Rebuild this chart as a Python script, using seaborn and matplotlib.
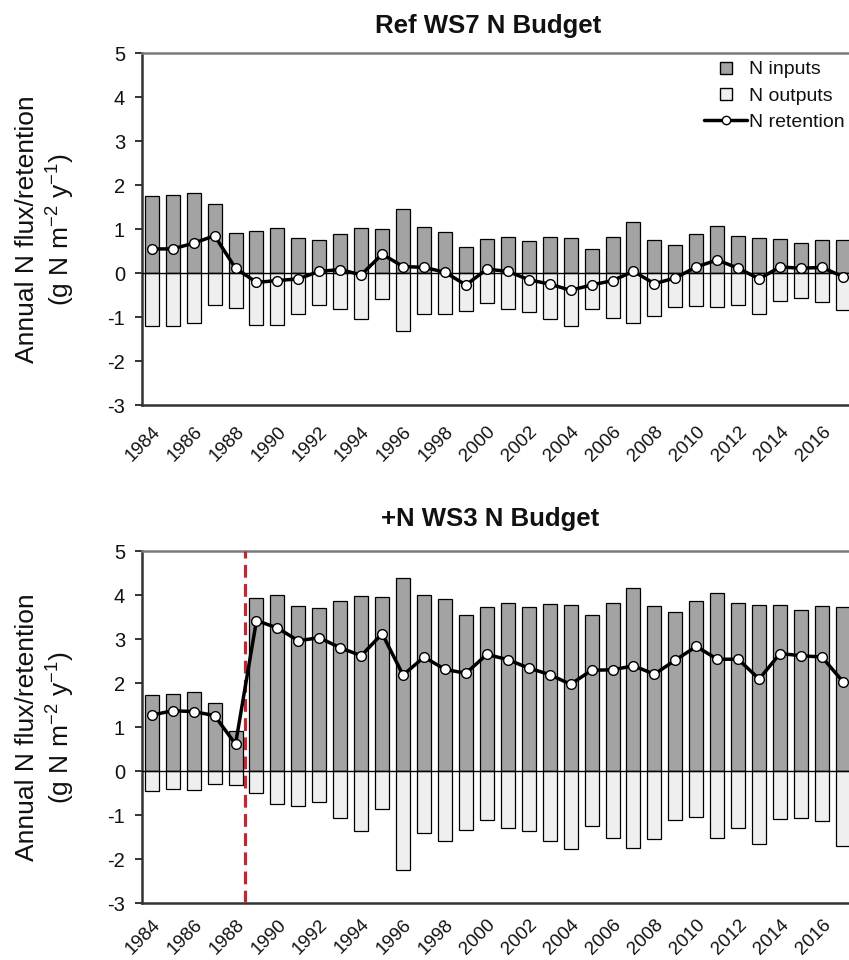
import numpy as np
import pandas as pd
from matplotlib import pyplot as plt
from matplotlib.lines import Line2D
import seaborn as sns

years = [str(y) for y in range(1984, 2018)]

ref_inputs = [1.76, 1.77, 1.81, 1.58, 0.92, 0.95, 1.02, 0.80, 0.76, 0.89, 1.02, 1.00, 1.45, 1.05, 0.94, 0.59, 0.77,
              0.83, 0.73, 0.82, 0.80, 0.55, 0.83, 1.16, 0.76, 0.63, 0.89, 1.08, 0.85, 0.79, 0.78, 0.68, 0.76, 0.75]
ref_outputs = [-1.20, -1.20, -1.14, -0.73, -0.80, -1.17, -1.17, -0.93, -0.73, -0.81, -1.05, -0.59, -1.31, -0.93, -0.93, -0.86, -0.68,
               -0.81, -0.89, -1.04, -1.20, -0.81, -1.01, -1.14, -0.98, -0.76, -0.74, -0.77, -0.72, -0.93, -0.63, -0.57, -0.66, -0.83]
ref_retention = [0.55, 0.55, 0.68, 0.85, 0.11, -0.21, -0.17, -0.13, 0.04, 0.08, -0.04, 0.43, 0.15, 0.13, 0.02, -0.27, 0.09,
                 0.04, -0.15, -0.25, -0.39, -0.27, -0.17, 0.04, -0.24, -0.11, 0.14, 0.30, 0.11, -0.13, 0.14, 0.11, 0.13, -0.08]

ws3_inputs = [1.74, 1.77, 1.80, 1.56, 0.91, 3.94, 4.00, 3.76, 3.72, 3.87, 3.98, 3.97, 4.40, 4.02, 3.91, 3.56, 3.74,
              3.83, 3.74, 3.81, 3.78, 3.55, 3.82, 4.16, 3.75, 3.63, 3.87, 4.06, 3.83, 3.78, 3.78, 3.68, 3.77, 3.74]
ws3_outputs = [-0.45, -0.39, -0.43, -0.28, -0.30, -0.49, -0.74, -0.79, -0.70, -1.06, -1.36, -0.85, -2.23, -1.41, -1.57, -1.34, -1.10,
               -1.28, -1.35, -1.58, -1.77, -1.24, -1.51, -1.74, -1.54, -1.11, -1.03, -1.51, -1.28, -1.66, -1.07, -1.06, -1.13, -1.69]
ws3_retention = [1.28, 1.38, 1.36, 1.27, 0.62, 3.43, 3.26, 2.97, 3.04, 2.81, 2.63, 3.13, 2.19, 2.60, 2.32, 2.23, 2.66,
                 2.54, 2.35, 2.20, 1.98, 2.30, 2.31, 2.40, 2.21, 2.53, 2.84, 2.55, 2.55, 2.10, 2.68, 2.63, 2.60, 2.04]

titles = ['Ref WS7 N Budget', '+N WS3 N Budget']
treatment_start = 4.45  # between 1988 and 1989

sns.set_style('white')
plt.rcParams['font.family'] = ['Liberation Sans', 'DejaVu Sans']
plt.rcParams['mathtext.default'] = 'regular'
plt.rcParams['axes.unicode_minus'] = False
plt.rcParams['text.color'] = '#111111'
plt.rcParams['axes.labelcolor'] = '#111111'
plt.rcParams['xtick.color'] = '#111111'
plt.rcParams['ytick.color'] = '#111111'

col_in = '#a3a3a3'
col_out = '#efefef'

fig = plt.figure(figsize=(8.49, 9.6), dpi=100)
ax1 = fig.add_axes([0.1669, 0.578, 0.8331, 0.3667])
ax2 = fig.add_axes([0.1669, 0.0589, 0.8331, 0.3667])

panels = [(ax1, ref_inputs, ref_outputs, ref_retention),
          (ax2, ws3_inputs, ws3_outputs, ws3_retention)]

for i, (ax, n_in, n_out, n_ret) in enumerate(panels):
    tbl = pd.DataFrame({'year': years, 'n_in': n_in, 'n_out': n_out, 'n_ret': n_ret})

    sns.barplot(data=tbl, x='year', y='n_in', color=col_in, saturation=1, width=0.67,
                edgecolor='black', linewidth=0.9, ax=ax)
    sns.barplot(data=tbl, x='year', y='n_out', color=col_out, saturation=1, width=0.67,
                edgecolor='black', linewidth=0.9, ax=ax)
    ax.axhline(0, color='black', lw=1.0, zorder=3)
    if i == 1:
        ax.axvline(treatment_start, color='#c0282d', lw=2.3, ls=(0, (4, 2)), zorder=4)
    sns.pointplot(data=tbl, x='year', y='n_ret', color='black', markers='o', markersize=7,
                  linewidth=2.5, ax=ax)
    for ln in ax.lines:
        if ln.get_marker() == 'o':
            ln.set_markerfacecolor('white')
            ln.set_markeredgecolor('black')
            ln.set_markeredgewidth(1.0)
            ln.set_zorder(5)

    ax.set_xlim(-0.48, 33.29)
    ax.set_ylim(-3, 5)
    ax.set_yticks(range(-3, 6))
    ax.set_xticks(range(0, len(years), 2))
    ax.set_xticklabels(years[::2], rotation=45, ha='right', rotation_mode='anchor')
    ax.tick_params(axis='y', direction='out', length=5, width=1.2, pad=7, labelsize=14.5, left=True)
    ax.tick_params(axis='x', length=0, pad=13 if i == 0 else 9, labelsize=13.5)
    ax.set_xlabel('')
    ax.set_ylabel('Annual N flux/retention\n(g N m$^{-2}$ y$^{-1}$)', fontsize=19)
    ax.yaxis.set_label_coords(-0.092, 0.5)
    for s in ['left', 'bottom']:
        ax.spines[s].set_color('#333333')
        ax.spines[s].set_linewidth(1.8)
    ax.spines['top'].set_color('#7a7a7a')
    ax.spines['top'].set_linewidth(1.8)
    ax.spines['right'].set_visible(False)

fig.text(488 / 849, 1 - 26 / 960, titles[0], ha='center', va='center', fontsize=18.5, fontweight='bold')
fig.text(490 / 849, 1 - 519 / 960, titles[1], ha='center', va='center', fontsize=18.5, fontweight='bold')

handles = [Line2D([], [], ls='none', marker='s', ms=9, mfc=col_in, mec='black', mew=1.0),
           Line2D([], [], ls='none', marker='s', ms=9, mfc=col_out, mec='black', mew=1.0),
           Line2D([], [], color='black', lw=2.5, marker='o', ms=6, mfc='white', mec='black')]
ax1.legend(handles, ['N inputs', 'N outputs', 'N retention'], loc='upper right',
           bbox_to_anchor=(1.005, 1.0), frameon=False, fontsize=14, handlelength=2.2,
           handletextpad=0.1, labelspacing=0.45, borderaxespad=0)

fig.savefig('out.png', dpi=100)
